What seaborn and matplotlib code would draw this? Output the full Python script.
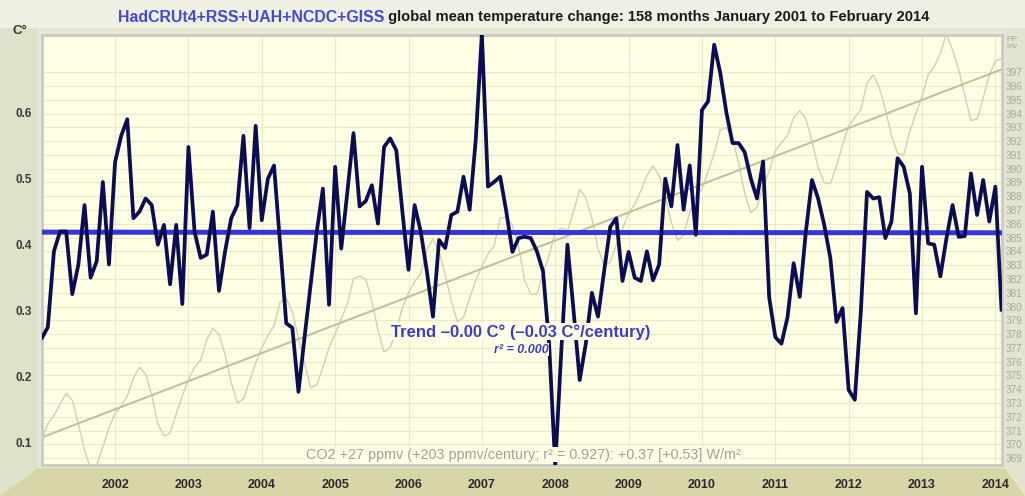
import numpy as np
import pandas as pd
import matplotlib
matplotlib.use("Agg")
import matplotlib.pyplot as plt
import seaborn as sns
from matplotlib.patches import Polygon

# ---------------- data ----------------
temp = [
    0.258, 0.275, 0.39, 0.42, 0.42, 0.325, 0.37, 0.46, 0.35, 0.375, 0.495, 0.37,      # 2001
    0.525, 0.565, 0.59, 0.44, 0.45, 0.47, 0.46, 0.40, 0.43, 0.34, 0.43, 0.31,         # 2002
    0.548, 0.42, 0.38, 0.385, 0.45, 0.33, 0.39, 0.44, 0.46, 0.565, 0.425, 0.58,       # 2003
    0.437, 0.50, 0.52, 0.40, 0.281, 0.274, 0.177, 0.26, 0.34, 0.42, 0.485, 0.309,     # 2004
    0.518, 0.394, 0.48, 0.569, 0.458, 0.466, 0.49, 0.432, 0.548, 0.561, 0.543, 0.45,  # 2005
    0.362, 0.46, 0.42, 0.36, 0.291, 0.407, 0.395, 0.445, 0.45, 0.503, 0.453, 0.559,   # 2006
    0.72, 0.488, 0.495, 0.503, 0.45, 0.389, 0.41, 0.412, 0.41, 0.39, 0.36, 0.25,      # 2007
    0.065, 0.24, 0.40, 0.30, 0.195, 0.25, 0.327, 0.291, 0.36, 0.427, 0.44, 0.345,     # 2008
    0.389, 0.35, 0.345, 0.39, 0.346, 0.37, 0.50, 0.458, 0.551, 0.453, 0.52, 0.415,    # 2009
    0.604, 0.617, 0.703, 0.66, 0.60, 0.554, 0.554, 0.54, 0.50, 0.47, 0.526, 0.32,     # 2010
    0.26, 0.25, 0.29, 0.372, 0.321, 0.42, 0.498, 0.47, 0.43, 0.38, 0.283, 0.304,      # 2011
    0.18, 0.165, 0.30, 0.48, 0.47, 0.472, 0.41, 0.435, 0.531, 0.518, 0.478, 0.296,    # 2012
    0.518, 0.402, 0.40, 0.352, 0.41, 0.46, 0.412, 0.413, 0.508, 0.445, 0.498, 0.435,  # 2013
    0.488, 0.301,                                                                     # 2014
]

co2 = [
    370.3, 371.5, 372.1, 372.9, 373.7, 373.2, 371.5, 369.6, 368.2, 368.5, 369.8, 371.2,
    372.2, 372.8, 373.5, 374.8, 375.6, 375.1, 373.6, 371.5, 370.6, 370.8, 372.2, 373.5,
    374.7, 375.6, 376.1, 377.6, 378.4, 378.0, 376.5, 374.5, 373.0, 373.3, 374.6, 375.9,
    377.0, 377.9, 378.6, 380.3, 380.6, 379.6, 377.7, 375.9, 374.1, 374.3, 375.6, 377.0,
    378.0, 379.1, 380.2, 382.0, 382.2, 382.0, 380.4, 378.3, 376.7, 377.0, 378.3, 379.9,
    381.0, 381.8, 382.4, 384.1, 384.9, 384.0, 382.3, 380.4, 378.9, 379.2, 380.6, 381.9,
    382.9, 383.8, 384.4, 386.4, 386.5, 385.9, 384.4, 381.9, 380.9, 380.9, 382.4, 383.7,
    385.4, 385.7, 385.5, 386.9, 388.5, 387.9, 386.4, 384.2, 383.0, 383.2, 384.5, 385.6,
    386.8, 387.4, 388.4, 389.5, 390.2, 389.5, 388.0, 386.1, 384.8, 385.2, 386.8, 388.0,
    388.5, 389.8, 391.1, 392.8, 393.0, 392.2, 390.4, 388.2, 386.8, 387.2, 388.7, 389.8,
    391.3, 391.9, 392.4, 393.7, 394.2, 393.6, 392.0, 390.1, 389.0, 388.9, 390.2, 391.7,
    393.1, 393.7, 394.3, 396.2, 396.8, 395.9, 394.3, 392.4, 391.1, 391.0, 392.7, 394.0,
    395.2, 396.8, 397.4, 398.4, 399.8, 398.6, 397.2, 395.3, 393.5, 393.6, 395.1, 396.8,
    397.8, 398.0,
]

years = list(range(2002, 2015))
temp_ticks = [0.1, 0.2, 0.3, 0.4, 0.5, 0.6]
temp_tick_labels = ["0.1", "0.2", "0.3", "0.4", "0.5", "0.6"]
co2_ticks = list(range(369, 398))
temp_trend = [0.419, 0.418]
co2_trend = [370.5, 397.2]

title_blue = "HadCRUt4+RSS+UAH+NCDC+GISS"
title_black = " global mean temperature change: 158 months January 2001 to February 2014"
trend_text = "Trend \u20130.00 C\u00b0 (\u20130.03 C\u00b0/century)"
r2_text = "r\u00b2 = 0.000"
co2_text = "CO2 +27 ppmv (+203 ppmv/century; r\u00b2 = 0.927): +0.37 [+0.53] W/m\u00b2"

# ---------------- frames ----------------
n = len(temp)
months = np.arange(n)
df = pd.DataFrame({"month": months, "temp": temp, "co2": co2})
df_ttrend = pd.DataFrame({"month": [0, n - 1], "v": temp_trend})
df_ctrend = pd.DataFrame({"month": [0, n - 1], "v": co2_trend})
year_idx = [(y - 2001) * 12 for y in years]

sns.set_theme(style="white")
plt.rcParams['font.family'] = ['Liberation Sans', 'DejaVu Sans']

W, H = 1025, 496
fig = plt.figure(figsize=(W / 100, H / 100), dpi=100)
fig.patch.set_facecolor('#e6e8d6')

def px(x, y):
    return (x / W, 1 - y / H)

# decorative bands (behind the axes)
bands = [
    ([(0, 0), (1025, 0), (1025, 28), (0, 28)], '#eef0e4'),
    ([(0, 28), (38, 28), (38, 468), (0, 496)], '#dfe2ca'),
    ([(0, 496), (38, 468), (1005, 468), (1025, 496)], '#d8d5a8'),
    ([(1005, 28), (1025, 28), (1025, 496), (1005, 468)], '#e2e4d0'),
]
for pts, col in bands:
    fig.patches.append(Polygon([px(*p) for p in pts], closed=True, transform=fig.transFigure,
                               facecolor=col, edgecolor='none', zorder=-5))

L, R, T, B = 41.7, 1001.5, 35, 465
rect = [L / W, 1 - B / H, (R - L) / W, (B - T) / H]

# CO2 axis (behind), also carries the year labels
ax = fig.add_axes(rect)
ax.set_facecolor('#ffffe6')
sns.lineplot(data=df, x='month', y='co2', ax=ax, color='#d2cfae', lw=1.0, zorder=2)
sns.lineplot(data=df_ctrend, x='month', y='v', ax=ax, color='#c6c09a', lw=1.5, zorder=3)
ax.set_xlim(0, n - 1)
ax.set_ylim(368.5, 399.7)
ax.set_xticks(year_idx, labels=[str(y) for y in years])
ax.tick_params(axis='x', length=0, pad=10, labelsize=9, labelcolor='#2a2a2a', labelbottom=True)
for lab in ax.get_xticklabels():
    lab.set_fontweight('bold')
ax.set_xlabel('')
ax.set_ylabel('')
ax.grid(True, axis='both', color='#eaeac6', lw=0.8)
ax.set_axisbelow(True)
for s in ax.spines.values():
    s.set_visible(True)
    s.set_color('#cacac4')
    s.set_linewidth(2.0)
    s.set_zorder(10)

# temperature axis (front)
ax2 = ax.twinx()
ax2.patch.set_visible(False)
# twinx moves the first axis to the left: put CO2 on the right, temperature on the left
ax.yaxis.tick_right()
ax.yaxis.set_label_position('right')
ax.set_yticks(co2_ticks, labels=[str(c) for c in co2_ticks])
ax.tick_params(axis='y', length=0, pad=3, labelsize=7.2, labelcolor='#a9a99c',
               labelleft=False, labelright=True)
ax2.yaxis.tick_left()
ax2.yaxis.set_label_position('left')

sns.lineplot(data=df_ttrend, x='month', y='v', ax=ax2, color='#3535dd', lw=3.6, zorder=3)
sns.lineplot(data=df, x='month', y='temp', ax=ax2, color='#0c0c52', lw=2.7, zorder=4)
ax2.set_xlim(0, n - 1)
ax2.set_ylim(0.0662, 0.7177)
ax2.set_yticks(temp_ticks, labels=temp_tick_labels)
ax2.tick_params(axis='y', length=0, pad=7, labelsize=8.5, labelcolor='#3a3a3a',
                labelleft=True, labelright=False)
for lab in ax2.get_yticklabels():
    lab.set_fontweight('bold')
ax2.set_xlabel('')
ax2.set_ylabel('')
for s in ax2.spines.values():
    s.set_visible(False)

# annotations
bg = '#ffffe6'
ax2.text(78.4, 0.268, trend_text, ha='center', va='center', fontsize=12, fontweight='bold',
         color='#3c3cc8', zorder=6,
         bbox=dict(facecolor=bg, edgecolor='none', pad=0.5))
ax2.text(78.4, 0.241, r2_text, ha='center', va='center', fontsize=9, fontweight='bold',
         fontstyle='italic', color='#3c3cc8', zorder=6,
         bbox=dict(facecolor=bg, edgecolor='none', pad=0.3))
ax2.text(78.8, 0.082, co2_text, ha='center', va='center', fontsize=10.4,
         color='#a2a29a', zorder=6,
         bbox=dict(facecolor=bg, edgecolor='none', pad=0.4))

fig.text(384 / W, 1 - 17 / H, title_blue, ha='right', va='center', fontsize=11.4,
         fontweight='bold', color='#4848d0')
fig.text(384 / W, 1 - 17 / H, title_black, ha='left', va='center', fontsize=10.6,
         fontweight='bold', color='#1a1a1a')
fig.text(20 / W, 1 - 31 / H, "C\u00b0", ha='center', va='center', fontsize=9.5,
         fontweight='bold', color='#333333')
fig.text(1006 / W, 1 - 43 / H, "PP\nmv", ha='left', va='center', fontsize=6,
         color='#a9a99c', linespacing=0.9)

fig.savefig('out.png', dpi=100, facecolor=fig.get_facecolor())
